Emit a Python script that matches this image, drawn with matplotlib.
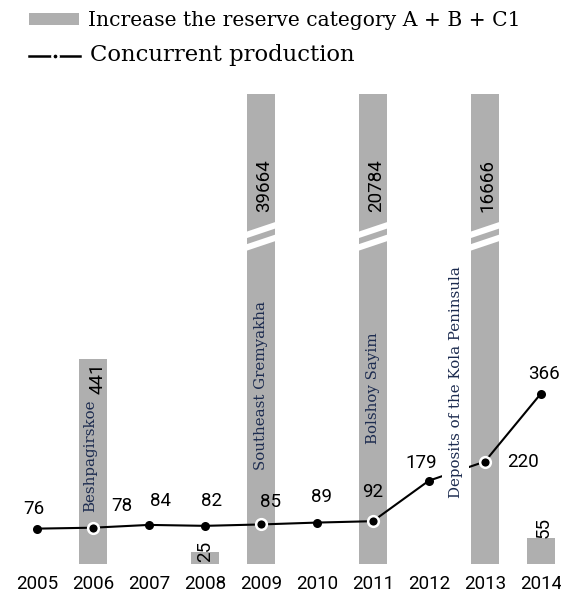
import matplotlib
matplotlib.use("Agg")
import matplotlib.pyplot as plt
from matplotlib.patches import Polygon, Rectangle
from matplotlib.lines import Line2D

# ---------------- data ----------------
years = [2005, 2006, 2007, 2008, 2009, 2010, 2011, 2012, 2013, 2014]
production = [76, 78, 84, 82, 85, 89, 92, 179, 220, 366]
reserve_years = [2006, 2008, 2009, 2011, 2013, 2014]
reserve_values = [441, 25, 39664, 20784, 16666, 55]
deposit_years = [2006, 2009, 2011, 2013]
deposit_names = ["Beshpagirskoe", "Southeast Gremyakha", "Bolshoy Sayim",
                 "Deposits of the Kola Peninsula"]
legend_labels = ["Increase the reserve category A + B + C1",
                 "Concurrent production"]

# ---------------- style / layout ----------------
BAR_COLOR = "#afafaf"
NAME_COLOR = "#1c2b4f"
SANS = ["Roboto", "DejaVu Sans"]
SERIF = ["DejaVu Serif"]
W, H = 561, 596
YMAX = 1010

fig = plt.figure(figsize=(W / 100, H / 100), dpi=100)
ax = fig.add_axes([0, (H - 564) / H, 1, (564 - 94) / H])
ax.set_xlim(2004.34, 2014.36)
ax.set_ylim(0, YMAX)
for s in ax.spines.values():
    s.set_visible(False)
ax.set_yticks([])
ax.set_xticks(years)
ax.set_xticklabels([str(y) for y in years], fontfamily=SANS, fontsize=13.5)
ax.tick_params(axis="x", length=0, pad=8)

bw = 0.5
ax.bar(reserve_years, reserve_values, width=bw, color=BAR_COLOR, zorder=1)

# break marks on bars exceeding the axis
for x, v in zip(reserve_years, reserve_values):
    if v > YMAX:
        xl, xr = x - bw / 2 - 0.01, x + bw / 2 + 0.01
        rise = 21
        for y0, t in ((700, 14), (673, 14)):
            poly = Polygon([(xl, y0), (xr, y0 + rise), (xr, y0 + rise + t), (xl, y0 + t)],
                           closed=True, facecolor="white", edgecolor="none", zorder=1.5)
            ax.add_patch(poly)

# bar value labels
for x, v in zip(reserve_years, reserve_values):
    if v > YMAX:
        ax.text(x + 0.05, 870, str(v), rotation=90, ha="center", va="top",
                fontfamily=SANS, fontsize=13.5, zorder=4)
    elif v > 200:
        ax.text(x + 0.08, v - 8, str(v), rotation=90, ha="center", va="top",
                fontfamily=SANS, fontsize=13.5, zorder=4)
    elif v > 40:
        ax.text(x + 0.05, v + 1, str(v), rotation=90, ha="center", va="bottom",
                fontfamily=SANS, fontsize=13.5, zorder=4)
    else:
        ax.text(x, 4, str(v), rotation=90, ha="center", va="bottom",
                fontfamily=SANS, fontsize=13.5, zorder=4)

# deposit names
name_pos = {2006: (-0.05, 112), 2009: (0.0, 202), 2011: (0.0, 258), 2013: (-0.52, 142)}
for x, name in zip(deposit_years, deposit_names):
    dx, yb = name_pos[x]
    kw = {}
    if x == 2013:
        kw["bbox"] = dict(facecolor="white", edgecolor="none", pad=4.5)
    ax.text(x + dx, yb, name, rotation=90, ha="center", va="bottom",
            fontfamily=SERIF, fontsize=10.8, color=NAME_COLOR, zorder=5, **kw)

# production line
ax.plot(years, production, color="black", lw=1.5, zorder=3)
special = set(deposit_years)
for x, v in zip(years, production):
    if x in special:
        ax.plot([x], [v], "o", ms=7.7, mfc="black", mec="white", mew=1.8, zorder=6)
    else:
        ax.plot([x], [v], "o", ms=6.5, mfc="black", mec="black", mew=0, zorder=6)

offsets = [(-3, 20), (29, 22), (12, 24), (7, 25), (10, 22), (5, 26), (0, 29),
           (-8, 18), (38, 0), (3, 20)]
for x, v, (ox, oy) in zip(years, production, offsets):
    ax.annotate(str(v), (x, v), xytext=(ox, oy), textcoords="offset pixels",
                ha="center", va="center", fontfamily=SANS, fontsize=13.5, zorder=7)

# legend (manual)
fig.patches.append(Rectangle((29 / W, 1 - 25 / H), 50 / W, 12 / H,
                             transform=fig.transFigure, facecolor=BAR_COLOR,
                             edgecolor="none"))
fig.text(88 / W, 1 - 20 / H, legend_labels[0], ha="left", va="center",
         fontfamily=SERIF, fontsize=14.6)
fig.lines.append(Line2D([29 / W, 80 / W], [1 - 56 / H, 1 - 56 / H],
                        transform=fig.transFigure, color="black", lw=1.8))
fig.lines.append(Line2D([54.5 / W], [1 - 56 / H], transform=fig.transFigure,
                        marker="o", ms=4.5, color="black", mec="white", mew=1.8))
fig.text(90 / W, 1 - 55 / H, legend_labels[1], ha="left", va="center",
         fontfamily=SERIF, fontsize=16.4)

fig.savefig("out.png", dpi=100)
